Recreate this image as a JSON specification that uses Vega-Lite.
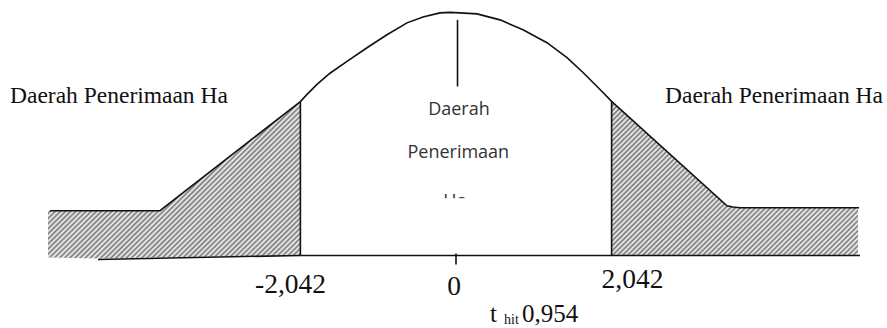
{
  "$schema": "https://vega.github.io/schema/vega-lite/v6.json",
  "width": 887,
  "height": 328,
  "padding": 0,
  "autosize": {"type": "fit", "contains": "padding"},
  "background": "white",
  "config": {"view": {"stroke": null}},
  "datasets": {
    "tails": [
      {"side": "L", "t": -5.354, "d": 0.075, "d2": -0.0033},
      {"side": "L", "t": -4.698, "d": 0.075, "d2": -0.005},
      {"side": "L", "t": -3.885, "d": 0.075, "d2": -0.0035},
      {"side": "L", "t": -2.042, "d": 0.258, "d2": 0},
      {"side": "R", "t": 2.042, "d": 0.2583, "d2": 0},
      {"side": "R", "t": 3.556, "d": 0.0833, "d2": 0},
      {"side": "R", "t": 3.635, "d": 0.0812, "d2": 0},
      {"side": "R", "t": 3.727, "d": 0.08, "d2": 0},
      {"side": "R", "t": 5.276, "d": 0.08, "d2": 0}
    ],
    "curve": [
      {"t": -5.328, "d": 0.075},
      {"t": -3.885, "d": 0.075},
      {"t": -2.042, "d": 0.258},
      {"t": -1.955, "d": 0.27},
      {"t": -1.824, "d": 0.2867},
      {"t": -1.654, "d": 0.3055},
      {"t": -1.43, "d": 0.3255},
      {"t": -1.168, "d": 0.3483},
      {"t": -0.906, "d": 0.37},
      {"t": -0.643, "d": 0.39},
      {"t": -0.433, "d": 0.4},
      {"t": -0.21, "d": 0.4067},
      {"t": -0.079, "d": 0.4075},
      {"t": 0.052, "d": 0.4067},
      {"t": 0.276, "d": 0.405},
      {"t": 0.577, "d": 0.395},
      {"t": 0.879, "d": 0.3783},
      {"t": 1.194, "d": 0.3567},
      {"t": 1.457, "d": 0.3317},
      {"t": 1.667, "d": 0.3067},
      {"t": 1.89, "d": 0.2783},
      {"t": 2.042, "d": 0.2583},
      {"t": 3.556, "d": 0.0833},
      {"t": 3.635, "d": 0.0812},
      {"t": 3.727, "d": 0.08},
      {"t": 5.289, "d": 0.08}
    ],
    "rules": [
      {"t": -2.042, "d": 0.258, "t2": -2.042, "d2": 0},
      {"t": 2.042, "d": 0.2583, "t2": 2.042, "d2": 0},
      {"t": -2.042, "d": 0, "t2": 5.302, "d2": 0},
      {"t": -4.698, "d": -0.0067, "t2": -2.042, "d2": 0},
      {"t": 0, "d": 0.0033, "t2": 0, "d2": -0.015},
      {"t": 0.02, "d": 0.395, "t2": 0.02, "d2": 0.2833}
    ],
    "sideLabels": [
      {"label": "Daerah Penerimaan Ha", "t": -5.853, "d": 0.255},
      {"label": "Daerah Penerimaan Ha", "t": 2.743, "d": 0.255}
    ],
    "ticks": [
      {"label": "-2,042", "t": -2.172, "d": -0.0633},
      {"label": "0", "t": -0.026, "d": -0.0662},
      {"label": "2,042", "t": 2.316, "d": -0.0538}
    ],
    "thitMain": [
      {"label": "t", "t": 0.446, "d": -0.1117},
      {"label": "0,954", "t": 0.866, "d": -0.1117}
    ],
    "thitSub": [
      {"label": "hit", "t": 0.63, "d": -0.1142}
    ],
    "center": [
      {"label": "Daerah", "t": 0.039, "d": 0.2358},
      {"label": "Penerimaan", "t": 0.03, "d": 0.1642},
      {"label": "Ha", "t": -0.013, "d": 0.0817}
    ],
    "mask": [
      {"t": -0.341, "t2": 0.381, "d": 0.0958, "d2": 0.055}
    ]
  },
  "encoding": {
    "x": {"field": "t", "type": "quantitative", "scale": {"domain": [-5.984, 5.656], "nice": false, "zero": false}, "axis": null},
    "y": {"field": "d", "type": "quantitative", "scale": {"domain": [-0.11833, 0.42833], "nice": false, "zero": false}, "axis": null}
  },
  "layer": [
    {
      "data": {"name": "tails"},
      "mark": {
        "type": "area",
        "opacity": 1,
        "interpolate": "linear",
        "fill": {
          "gradient": "linear", "x1": 0, "y1": 0, "x2": 1.168, "y2": 0.733,
          "stops": [
            {"offset": 0, "color": "#767676"}, {"offset": 0.00625, "color": "#f7f7f7"}, {"offset": 0.0125, "color": "#767676"}, {"offset": 0.01875, "color": "#f7f7f7"}, {"offset": 0.025, "color": "#767676"}, {"offset": 0.03125, "color": "#f7f7f7"}, {"offset": 0.0375, "color": "#767676"}, {"offset": 0.04375, "color": "#f7f7f7"}, {"offset": 0.05, "color": "#767676"}, {"offset": 0.05625, "color": "#f7f7f7"}, {"offset": 0.0625, "color": "#767676"}, {"offset": 0.06875, "color": "#f7f7f7"}, {"offset": 0.075, "color": "#767676"}, {"offset": 0.08125, "color": "#f7f7f7"}, {"offset": 0.0875, "color": "#767676"}, {"offset": 0.09375, "color": "#f7f7f7"},
            {"offset": 0.1, "color": "#767676"}, {"offset": 0.10625, "color": "#f7f7f7"}, {"offset": 0.1125, "color": "#767676"}, {"offset": 0.11875, "color": "#f7f7f7"}, {"offset": 0.125, "color": "#767676"}, {"offset": 0.13125, "color": "#f7f7f7"}, {"offset": 0.1375, "color": "#767676"}, {"offset": 0.14375, "color": "#f7f7f7"}, {"offset": 0.15, "color": "#767676"}, {"offset": 0.15625, "color": "#f7f7f7"}, {"offset": 0.1625, "color": "#767676"}, {"offset": 0.16875, "color": "#f7f7f7"}, {"offset": 0.175, "color": "#767676"}, {"offset": 0.18125, "color": "#f7f7f7"}, {"offset": 0.1875, "color": "#767676"}, {"offset": 0.19375, "color": "#f7f7f7"},
            {"offset": 0.2, "color": "#767676"}, {"offset": 0.20625, "color": "#f7f7f7"}, {"offset": 0.2125, "color": "#767676"}, {"offset": 0.21875, "color": "#f7f7f7"}, {"offset": 0.225, "color": "#767676"}, {"offset": 0.23125, "color": "#f7f7f7"}, {"offset": 0.2375, "color": "#767676"}, {"offset": 0.24375, "color": "#f7f7f7"}, {"offset": 0.25, "color": "#767676"}, {"offset": 0.25625, "color": "#f7f7f7"}, {"offset": 0.2625, "color": "#767676"}, {"offset": 0.26875, "color": "#f7f7f7"}, {"offset": 0.275, "color": "#767676"}, {"offset": 0.28125, "color": "#f7f7f7"}, {"offset": 0.2875, "color": "#767676"}, {"offset": 0.29375, "color": "#f7f7f7"},
            {"offset": 0.3, "color": "#767676"}, {"offset": 0.30625, "color": "#f7f7f7"}, {"offset": 0.3125, "color": "#767676"}, {"offset": 0.31875, "color": "#f7f7f7"}, {"offset": 0.325, "color": "#767676"}, {"offset": 0.33125, "color": "#f7f7f7"}, {"offset": 0.3375, "color": "#767676"}, {"offset": 0.34375, "color": "#f7f7f7"}, {"offset": 0.35, "color": "#767676"}, {"offset": 0.35625, "color": "#f7f7f7"}, {"offset": 0.3625, "color": "#767676"}, {"offset": 0.36875, "color": "#f7f7f7"}, {"offset": 0.375, "color": "#767676"}, {"offset": 0.38125, "color": "#f7f7f7"}, {"offset": 0.3875, "color": "#767676"}, {"offset": 0.39375, "color": "#f7f7f7"},
            {"offset": 0.4, "color": "#767676"}, {"offset": 0.40625, "color": "#f7f7f7"}, {"offset": 0.4125, "color": "#767676"}, {"offset": 0.41875, "color": "#f7f7f7"}, {"offset": 0.425, "color": "#767676"}, {"offset": 0.43125, "color": "#f7f7f7"}, {"offset": 0.4375, "color": "#767676"}, {"offset": 0.44375, "color": "#f7f7f7"}, {"offset": 0.45, "color": "#767676"}, {"offset": 0.45625, "color": "#f7f7f7"}, {"offset": 0.4625, "color": "#767676"}, {"offset": 0.46875, "color": "#f7f7f7"}, {"offset": 0.475, "color": "#767676"}, {"offset": 0.48125, "color": "#f7f7f7"}, {"offset": 0.4875, "color": "#767676"}, {"offset": 0.49375, "color": "#f7f7f7"},
            {"offset": 0.5, "color": "#767676"}, {"offset": 0.50625, "color": "#f7f7f7"}, {"offset": 0.5125, "color": "#767676"}, {"offset": 0.51875, "color": "#f7f7f7"}, {"offset": 0.525, "color": "#767676"}, {"offset": 0.53125, "color": "#f7f7f7"}, {"offset": 0.5375, "color": "#767676"}, {"offset": 0.54375, "color": "#f7f7f7"}, {"offset": 0.55, "color": "#767676"}, {"offset": 0.55625, "color": "#f7f7f7"}, {"offset": 0.5625, "color": "#767676"}, {"offset": 0.56875, "color": "#f7f7f7"}, {"offset": 0.575, "color": "#767676"}, {"offset": 0.58125, "color": "#f7f7f7"}, {"offset": 0.5875, "color": "#767676"}, {"offset": 0.59375, "color": "#f7f7f7"},
            {"offset": 0.6, "color": "#767676"}, {"offset": 0.60625, "color": "#f7f7f7"}, {"offset": 0.6125, "color": "#767676"}, {"offset": 0.61875, "color": "#f7f7f7"}, {"offset": 0.625, "color": "#767676"}, {"offset": 0.63125, "color": "#f7f7f7"}, {"offset": 0.6375, "color": "#767676"}, {"offset": 0.64375, "color": "#f7f7f7"}, {"offset": 0.65, "color": "#767676"}, {"offset": 0.65625, "color": "#f7f7f7"}, {"offset": 0.6625, "color": "#767676"}, {"offset": 0.66875, "color": "#f7f7f7"}, {"offset": 0.675, "color": "#767676"}, {"offset": 0.68125, "color": "#f7f7f7"}, {"offset": 0.6875, "color": "#767676"}, {"offset": 0.69375, "color": "#f7f7f7"},
            {"offset": 0.7, "color": "#767676"}, {"offset": 0.70625, "color": "#f7f7f7"}, {"offset": 0.7125, "color": "#767676"}, {"offset": 0.71875, "color": "#f7f7f7"}, {"offset": 0.725, "color": "#767676"}, {"offset": 0.73125, "color": "#f7f7f7"}, {"offset": 0.7375, "color": "#767676"}, {"offset": 0.74375, "color": "#f7f7f7"}, {"offset": 0.75, "color": "#767676"}, {"offset": 0.75625, "color": "#f7f7f7"}, {"offset": 0.7625, "color": "#767676"}, {"offset": 0.76875, "color": "#f7f7f7"}, {"offset": 0.775, "color": "#767676"}, {"offset": 0.78125, "color": "#f7f7f7"}, {"offset": 0.7875, "color": "#767676"}, {"offset": 0.79375, "color": "#f7f7f7"},
            {"offset": 0.8, "color": "#767676"}, {"offset": 0.80625, "color": "#f7f7f7"}, {"offset": 0.8125, "color": "#767676"}, {"offset": 0.81875, "color": "#f7f7f7"}, {"offset": 0.825, "color": "#767676"}, {"offset": 0.83125, "color": "#f7f7f7"}, {"offset": 0.8375, "color": "#767676"}, {"offset": 0.84375, "color": "#f7f7f7"}, {"offset": 0.85, "color": "#767676"}, {"offset": 0.85625, "color": "#f7f7f7"}, {"offset": 0.8625, "color": "#767676"}, {"offset": 0.86875, "color": "#f7f7f7"}, {"offset": 0.875, "color": "#767676"}, {"offset": 0.88125, "color": "#f7f7f7"}, {"offset": 0.8875, "color": "#767676"}, {"offset": 0.89375, "color": "#f7f7f7"},
            {"offset": 0.9, "color": "#767676"}, {"offset": 0.90625, "color": "#f7f7f7"}, {"offset": 0.9125, "color": "#767676"}, {"offset": 0.91875, "color": "#f7f7f7"}, {"offset": 0.925, "color": "#767676"}, {"offset": 0.93125, "color": "#f7f7f7"}, {"offset": 0.9375, "color": "#767676"}, {"offset": 0.94375, "color": "#f7f7f7"}, {"offset": 0.95, "color": "#767676"}, {"offset": 0.95625, "color": "#f7f7f7"}, {"offset": 0.9625, "color": "#767676"}, {"offset": 0.96875, "color": "#f7f7f7"}, {"offset": 0.975, "color": "#767676"}, {"offset": 0.98125, "color": "#f7f7f7"}, {"offset": 0.9875, "color": "#767676"}, {"offset": 0.99375, "color": "#f7f7f7"},
            {"offset": 1, "color": "#767676"}
          ]
        }
      },
      "encoding": {
        "y2": {"field": "d2"},
        "detail": {"field": "side", "type": "nominal"}
      }
    },
    {
      "data": {"name": "curve"},
      "mark": {"type": "line", "color": "#111111", "strokeWidth": 1.6, "interpolate": "linear"},
      "encoding": {}
    },
    {
      "data": {"name": "rules"},
      "mark": {"type": "rule", "color": "#111111", "strokeWidth": 1.6},
      "encoding": {
        "x2": {"field": "t2"},
        "y2": {"field": "d2"}
      }
    },
    {
      "data": {"name": "sideLabels"},
      "mark": {"type": "text", "font": "Liberation Serif", "fontSize": 23.5, "align": "left", "baseline": "alphabetic", "color": "#111111"},
      "encoding": {"text": {"field": "label"}}
    },
    {
      "data": {"name": "ticks"},
      "mark": {"type": "text", "font": "Liberation Serif", "fontSize": 27.5, "align": "center", "baseline": "alphabetic", "color": "#111111"},
      "encoding": {"text": {"field": "label"}}
    },
    {
      "data": {"name": "thitMain"},
      "mark": {"type": "text", "font": "Liberation Serif", "fontSize": 25, "align": "left", "baseline": "alphabetic", "color": "#111111"},
      "encoding": {"text": {"field": "label"}}
    },
    {
      "data": {"name": "thitSub"},
      "mark": {"type": "text", "font": "Liberation Serif", "fontSize": 14, "align": "left", "baseline": "alphabetic", "color": "#111111"},
      "encoding": {"text": {"field": "label"}}
    },
    {
      "data": {"name": "center"},
      "mark": {"type": "text", "font": "Open Sans", "fontSize": 18, "align": "center", "baseline": "alphabetic", "color": "#333333"},
      "encoding": {"text": {"field": "label"}}
    },
    {
      "data": {"name": "mask"},
      "mark": {"type": "rect", "color": "white", "opacity": 1},
      "encoding": {
        "x2": {"field": "t2"},
        "y2": {"field": "d2"}
      }
    }
  ]
}
